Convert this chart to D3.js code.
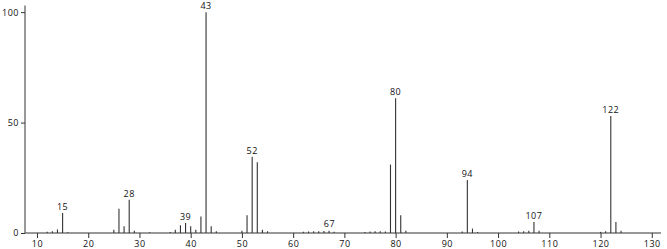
<!DOCTYPE html>
<html>
<head>
<meta charset="utf-8">
<script src="https://cdn.jsdelivr.net/npm/d3@7/dist/d3.min.js"></script>
<style>
	body{margin:0;background:#fff;}
	text{font-family:"Open Sans",sans-serif;font-size:9px;fill:#111;}
</style>
</head>
<body>
<div id="chart"></div>
<script>
// m/z and relative intensity
var mz =        [12, 13, 14, 15, 16, 25, 26, 27, 28, 29, 32, 36, 37, 38, 39, 40, 41, 42, 43, 44, 45,
	50, 51, 52, 53, 54, 55, 62, 63, 64, 65, 66, 67, 68, 74, 75, 76, 77, 78, 79, 80, 81, 82,
	93, 94, 95, 96, 104, 105, 106, 107, 108, 120, 121, 122, 123, 124];
var intensity = [0.6, 0.8, 1.6, 9, 0.3, 1.5, 11, 3, 15, 1, 0.3, 0.5, 1.5, 3.5, 4.5, 3, 1.5, 7.5, 100, 3, 0.8,
	1, 8, 34.5, 32, 1.5, 0.8, 0.6, 0.7, 0.8, 0.8, 0.9, 1, 0.6, 0.5, 0.7, 0.8, 0.8, 0.7, 31, 61, 8, 1,
	0.7, 24, 2, 0.5, 0.7, 0.8, 1, 5, 1, 0.5, 0.8, 53, 5, 1];
var labelled = [15, 28, 39, 43, 52, 67, 80, 94, 107, 122];
var xMajor = [10, 20, 30, 40, 50, 60, 70, 80, 90, 100, 110, 120, 130];
var yMajor = [0, 50, 100];
var yMinor = [25, 75];

var W = 667, H = 249;
var svg = d3.select('#chart').append('svg')
	.attr('width', W).attr('height', H);

var x = d3.scaleLinear().domain([7.66, 131.8]).range([25, 661]);
var y = d3.scaleLinear().domain([0, 103]).range([233, 5.5]);

var peaks = mz.map(function(m, i){ return {m: m, v: intensity[i]}; });

// peaks
svg.selectAll('.peak')
	.data(peaks).enter()
	.append('line')
		.attr('class', 'peak')
		.attr('x1', function(d){ return x(d.m); })
		.attr('x2', function(d){ return x(d.m); })
		.attr('y1', y(0))
		.attr('y2', function(d){ return y(d.v); })
		.attr('stroke', '#333')
		.attr('stroke-width', 1.1);

// peak labels
svg.selectAll('.plabel')
	.data(peaks.filter(function(d){ return labelled.indexOf(d.m) >= 0; })).enter()
	.append('text')
		.attr('class', 'plabel')
		.attr('x', function(d){ return x(d.m) + (d.m == 67 ? 0.5 : 0); })
		.attr('y', function(d){ return y(d.v) - (d.m == 67 ? 4 : 3); })
		.attr('text-anchor', 'middle')
		.style('letter-spacing', '0.5px')
		.text(function(d){ return d.m; });

// x axis, major and minor ticks
var xMinor = d3.range(8, 132, 2).filter(function(v){ return v % 10 != 0; });
var gx = svg.append('g').attr('transform', 'translate(0,' + y(0) + ')');
gx.call(d3.axisBottom(x).tickValues(xMinor).tickSize(3).tickFormat(''));
gx.call(d3.axisBottom(x).tickValues(xMajor).tickSize(5).tickPadding(3).tickFormat(d3.format('d')));
gx.selectAll('.domain').remove();
gx.append('line').attr('x1', x.range()[0]).attr('x2', x.range()[1])
	.attr('stroke', '#333');
gx.selectAll('line').attr('stroke', '#333');
gx.selectAll('text').attr('fill', '#111').style('font-family', '"Open Sans",sans-serif')
	.style('font-size', '9px').style('letter-spacing', '0.5px');

// y axis
var gy = svg.append('g').attr('transform', 'translate(' + x.range()[0] + ',0)');
gy.call(d3.axisLeft(y).tickValues(yMinor).tickSize(2).tickFormat(''));
gy.call(d3.axisLeft(y).tickValues(yMajor).tickSize(4).tickPadding(2).tickFormat(d3.format('d')));
gy.selectAll('.domain').remove();
gy.append('line').attr('y1', y.range()[0]).attr('y2', y.range()[1]).attr('stroke', '#333');
gy.selectAll('line').attr('stroke', '#333');
gy.selectAll('text').attr('fill', '#111').style('font-family', '"Open Sans",sans-serif')
	.style('font-size', '9px').style('letter-spacing', '0.5px');
</script>
</body>
</html>
